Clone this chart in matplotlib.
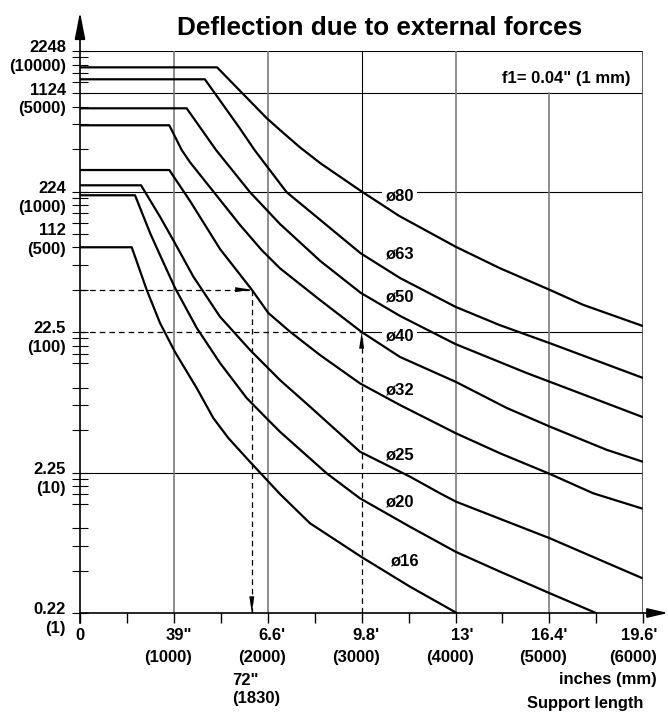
import numpy as np
import matplotlib
matplotlib.use('Agg')
import matplotlib.pyplot as plt

plt.rcParams['font.family'] = ['Liberation Sans', 'DejaVu Sans']
plt.rcParams['font.weight'] = 'bold'

# support length (mm) vs permitted force (N), one curve per bore
bores = ['ø80', 'ø63', 'ø50', 'ø40', 'ø32', 'ø25', 'ø20', 'ø16']
len_80 = [0, 1460, 1990, 2130, 2340, 2560, 3000, 3400, 4000, 4470, 5000, 5360, 6000]
force_80 = [7650, 7650, 3320, 2740, 2070, 1590, 1000, 670, 405, 285, 200, 156, 110]
len_63 = [0, 1330, 1700, 1860, 2200, 2560, 2990, 3410, 4000, 4470, 5010, 6000]
force_63 = [6290, 6290, 2830, 1970, 990, 627, 363, 242, 151, 112, 83, 47]
len_50 = [0, 1136, 1450, 1810, 2130, 2560, 2990, 3410, 4000, 4760, 5470, 6000]
force_50 = [3910, 3910, 1970, 990, 587, 320, 190, 130, 82, 51, 33.7, 24.7]
len_40 = [0, 951, 1083, 1172, 1427, 1704, 1935, 2130, 2556, 3000, 3409, 4005, 4545, 5006, 5610, 6000]
force_40 = [2960, 2960, 1974, 1614, 987, 578, 383, 284, 169, 100, 66.4, 44.1, 28.8, 21.2, 14.5, 11.9]
len_32 = [0, 951, 1172, 1491, 1830, 2006, 2237, 2556, 2982, 3409, 4005, 4474, 5006, 5467, 5980]
force_32 = [1422, 1422, 856, 390, 200, 136.5, 100.5, 68.6, 43.1, 30.2, 19.0, 13.7, 9.76, 7.11, 5.56]
len_25 = [0, 650, 852, 1012, 1207, 1491, 1811, 1917, 2130, 2450, 2982, 3515, 3835, 4005, 5006, 5980]
force_25 = [1107, 1107, 662, 428, 248, 128.5, 74.5, 63.2, 45.5, 29.4, 14.06, 9.34, 7.11, 6.20, 3.40, 1.78]
len_20 = [0, 586, 746, 852, 1012, 1243, 1491, 1775, 2006, 2130, 2627, 2982, 3515, 4005, 4474, 5006, 5496]
force_20 = [940, 940, 507, 353, 206, 107, 60.2, 33.9, 23.6, 19.5, 9.87, 6.55, 4.11, 2.72, 1.97, 1.38, 1.0]
len_16 = [0, 551, 711, 852, 1012, 1243, 1420, 1580, 1811, 2130, 2450, 3000, 3515, 4013]
force_16 = [401, 401, 199, 116, 72, 39.9, 24.4, 17.6, 11.9, 7.03, 4.35, 2.50, 1.54, 1.0]
curves = [(len_80, force_80), (len_63, force_63), (len_50, force_50), (len_40, force_40),
          (len_32, force_32), (len_25, force_25), (len_20, force_20), (len_16, force_16)]

# where the bore names sit (mm, N at text baseline)
label_x = [3250, 3250, 3250, 3250, 3250, 3250, 3250, 3300]
label_y = [856, 331, 166, 86.3, 36.2, 12.3, 5.77, 2.19]

# worked examples drawn dashed
example_len = [1830, 3000]
example_force = [200, 100]

x_ticks_mm = [0, 1000, 2000, 3000, 4000, 5000, 6000]
x_ticks_in = ['0', '39"', "6.6'", "9.8'", "13'", "16.4'", "19.6'"]
y_ticks_n = [1, 10, 100, 500, 1000, 5000, 10000]
y_ticks_lbs = ['0.22', '2.25', '22.5', '112', '224', '1124', '2248']

fs = 12
fig = plt.figure(figsize=(6.68, 7.13), dpi=100)
ax = fig.add_axes([80 / 668, 100 / 713, 563.3 / 668, 562 / 713])
ax.set_yscale('log')
ax.set_xlim(0, 6000)
ax.set_ylim(1, 10000)
for s in ax.spines.values():
    s.set_visible(False)

# grid
grey = '#7a7a7a'
for n in [10, 1000, 5000, 10000]:
    ax.axhline(n, color='k', lw=0.8, zorder=1)
ax.plot([3000, 6000], [100, 100], color='k', lw=0.8, zorder=1)
for x in [1000, 2000, 4000]:
    ax.axvline(x, color=grey, lw=1.2, zorder=1)
ax.plot([5000, 5000], [1, 5000], color=grey, lw=1.2, zorder=1)
ax.axvline(6000, color='#444444', lw=1.2, zorder=1)
ax.plot([3000, 3000], [100, 10000], color='k', lw=0.8, zorder=1)

# dashed reading examples
dash = (0, (4.5, 3.2))
x0, x1 = example_len
f0, f1 = example_force
ax.plot([0, x0], [f0, f0], color='k', lw=0.9, ls=dash, zorder=2)
ax.plot([x0, x0], [f0, 1], color='k', lw=0.9, ls=dash, zorder=2)
ax.plot([0, x1], [f1, f1], color='k', lw=0.9, ls=dash, zorder=2)
ax.plot([x1, x1], [1, f1], color='k', lw=0.9, ls=dash, zorder=2)
head = dict(arrowstyle='-|>,head_length=1.2,head_width=0.18', lw=0, color='k',
            shrinkA=0, shrinkB=0, mutation_scale=10)
ax.annotate('', xy=(x0, f0), xytext=(-12.5, 0), textcoords='offset points', arrowprops=head)
ax.annotate('', xy=(x0, 1), xytext=(0, 14), textcoords='offset points', arrowprops=head)
ax.annotate('', xy=(x1, f1), xytext=(0, -12.5), textcoords='offset points', arrowprops=head)

# curves
for (xs, ys), name, lx, ly in zip(curves, bores, label_x, label_y):
    ax.plot(xs, ys, color='k', lw=1.6, zorder=4, solid_joinstyle='round')
    ax.text(lx, ly, name, fontsize=fs, ha='left', va='baseline', zorder=3,
            bbox=dict(facecolor='white', edgecolor='none', pad=2.5))

# ticks
ax.set_xticks(x_ticks_mm)
ax.set_xticks(np.arange(500, 6000, 1000), minor=True)
ax.set_yticks(y_ticks_n)
minor_y = [m * 10 ** k for k in range(4) for m in range(2, 10) if m != 5]
ax.set_yticks(minor_y, minor=True)
ax.set_xticklabels([])
ax.set_yticklabels([])
ax.yaxis.set_minor_formatter(plt.NullFormatter())
ax.tick_params(axis='x', which='both', direction='out', length=7.5, width=1.0)
ax.tick_params(axis='y', which='both', direction='inout', length=11, width=0.8)

# axis lines with arrows
ax.annotate('', xy=(0, 601 / 562), xytext=(0, -0.018), xycoords='axes fraction',
            arrowprops=dict(arrowstyle='-|>,head_length=1.65,head_width=0.32', color='k',
                            lw=1.2, shrinkA=0, shrinkB=0, mutation_scale=10))
ax.annotate('', xy=(588 / 563.3, 0), xytext=(0, 0), xycoords='axes fraction',
            arrowprops=dict(arrowstyle='-|>,head_length=1.25,head_width=0.29', color='k',
                            lw=1.2, shrinkA=0, shrinkB=0, mutation_scale=10))

# y labels: lbs above, (N) below
for n, lbs in zip(y_ticks_n, y_ticks_lbs):
    ax.annotate(lbs, xy=(0, n), xytext=(-10, -1), textcoords='offset points',
                ha='right', va='baseline', fontsize=fs)
    ax.annotate(f'({n})', xy=(0, n), xytext=(-10, -14.5), textcoords='offset points',
                ha='right', va='baseline', fontsize=fs)

# x labels: inches/feet above, (mm) below
for mm, lab in zip(x_ticks_mm, x_ticks_in):
    if mm == 0:
        ax.annotate(lab, xy=(0, 1), xytext=(0, -19.4), textcoords='offset points',
                    ha='center', va='baseline', fontsize=fs)
        continue
    dx = 10 if mm == 6000 else 13
    ax.annotate(lab, xy=(mm, 1), xytext=(dx, -19.4), textcoords='offset points',
                ha='right', va='baseline', fontsize=fs)
    ax.annotate(f'({mm})', xy=(mm, 1), xytext=(dx, -35), textcoords='offset points',
                ha='right', va='baseline', fontsize=fs)
ax.annotate('72"', xy=(x0, 1), xytext=(-14, -51.8), textcoords='offset points',
            ha='left', va='baseline', fontsize=fs)
ax.annotate(f'({x0})', xy=(x0, 1), xytext=(-14, -65), textcoords='offset points',
            ha='left', va='baseline', fontsize=fs)
ax.annotate('inches (mm)', xy=(6000, 1), xytext=(9.4, -51), textcoords='offset points',
            ha='right', va='baseline', fontsize=fs)
ax.annotate('Support length', xy=(6000, 1), xytext=(0, -68.4), textcoords='offset points',
            ha='right', va='baseline', fontsize=11.8,
            family=['Liberation Sans Narrow', 'Liberation Sans', 'DejaVu Sans'])

ax.text(0.978, 1 - 32 / 562, 'f1= 0.04" (1 mm)', transform=ax.transAxes,
        ha='right', va='baseline', fontsize=fs)
fig.text(379.5 / 668, 1 - 35 / 713, 'Deflection due to external forces',
         ha='center', va='baseline', fontsize=18.8)

fig.savefig('out.png', dpi=100)
